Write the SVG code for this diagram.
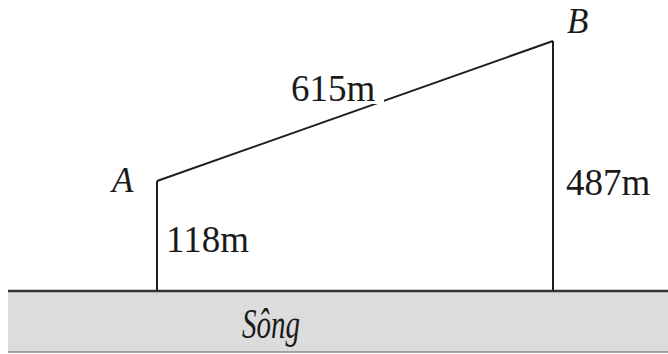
<svg xmlns="http://www.w3.org/2000/svg" width="668" height="354" viewBox="0 0 668 354">
<style>
.ln{stroke:#1e1e1e;stroke-width:2;fill:none}
.t{font-family:"Liberation Serif","Times New Roman",serif;font-size:37px;fill:#1a1a1a}
.i{font-style:italic;font-size:35px}
.s{font-style:italic;font-size:42px}
</style>
<rect width="668" height="354" fill="#fff"/>
<g id="river">
<rect x="8" y="291" width="660" height="61" fill="#dcdcdc"/>
<line x1="8" y1="291" x2="668" y2="291" stroke="#333" stroke-width="2.5"/>
<line x1="8" y1="352" x2="668" y2="352" stroke="#888" stroke-width="1.5"/>
<text class="t s" x="242" y="338" textLength="58" lengthAdjust="spacingAndGlyphs">Sông</text>
</g>
<g id="connectors">
<line class="ln" x1="157" y1="290" x2="157" y2="181"/>
<line class="ln" x1="157" y1="181" x2="553" y2="41"/>
<line class="ln" x1="553" y1="41" x2="553" y2="290"/>
</g>
<g id="labels">
<rect x="288" y="74" width="96" height="30" fill="#fff"/>
<text class="t" x="291" y="101">615m</text>
<text class="t" x="166" y="252">118m</text>
<text class="t" x="566" y="195">487m</text>
</g>
<g id="A"><text class="t i" x="112" y="192">A</text></g>
<g id="B"><text class="t i" x="567" y="33">B</text></g>
</svg>
